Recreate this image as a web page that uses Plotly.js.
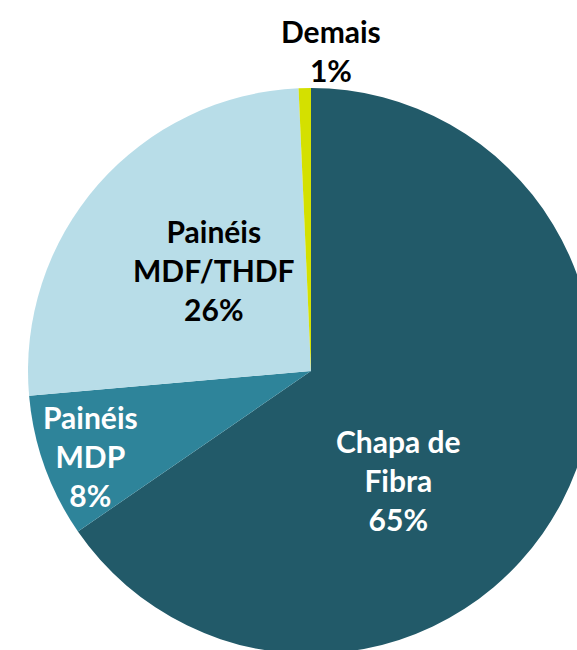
<!DOCTYPE html>
<html>
<head>
<meta charset="utf-8">
<script src="https://cdn.plot.ly/plotly-3.0.1.min.js"></script>
<style>
  html, body { margin: 0; padding: 0; overflow: hidden; background: #fff; }
  #chart { width: 600px; height: 660px; }
</style>
</head>
<body>
<div id="chart"></div>
<script>
// Produção por produto (participação)
const labels = ['Chapa de<br>Fibra', 'Painéis<br>MDP', 'Painéis<br>MDF/THDF', 'Demais'];
const values = [65.4, 8.2, 25.7, 0.7];
const colors = ['#225a69', '#2e849a', '#b8dde8', '#d4e000'];
const textColors = ['white', 'white', 'black', 'black'];

const total = values.reduce((a, b) => a + b, 0);

var trace = {
  type: 'pie',
  labels: labels,
  values: values,
  sort: false,
  direction: 'clockwise',
  rotation: 0,
  marker: { colors: colors, line: { width: 0 } },
  textinfo: 'none',
  hoverinfo: 'label+percent'
};

// label placement (paper coords), like the Excel best-fit labels
var spots = [
  { x: 0.655, y: 0.307 },
  { x: 0.110, y: 0.350 },
  { x: 0.329, y: 0.678 },
  { x: 0.535, y: 1.067 }
];

var annotations = labels.map(function (lab, i) {
  var pct = Math.round(values[i] / total * 100);
  return {
    xref: 'paper', yref: 'paper',
    x: spots[i].x, y: spots[i].y,
    xanchor: 'center', yanchor: 'middle',
    showarrow: false,
    text: '<b>' + lab + '<br>' + pct + '%</b>',
    font: { family: 'Lato, "Open Sans", sans-serif', size: 30, color: textColors[i] }
  };
});

var layout = {
  width: 600,
  height: 660,
  margin: { l: 28, r: 6, t: 88, b: 6 },
  showlegend: false,
  paper_bgcolor: 'white',
  annotations: annotations
};

Plotly.newPlot('chart', [trace], layout, { displayModeBar: false, staticPlot: true });
</script>
</body>
</html>
